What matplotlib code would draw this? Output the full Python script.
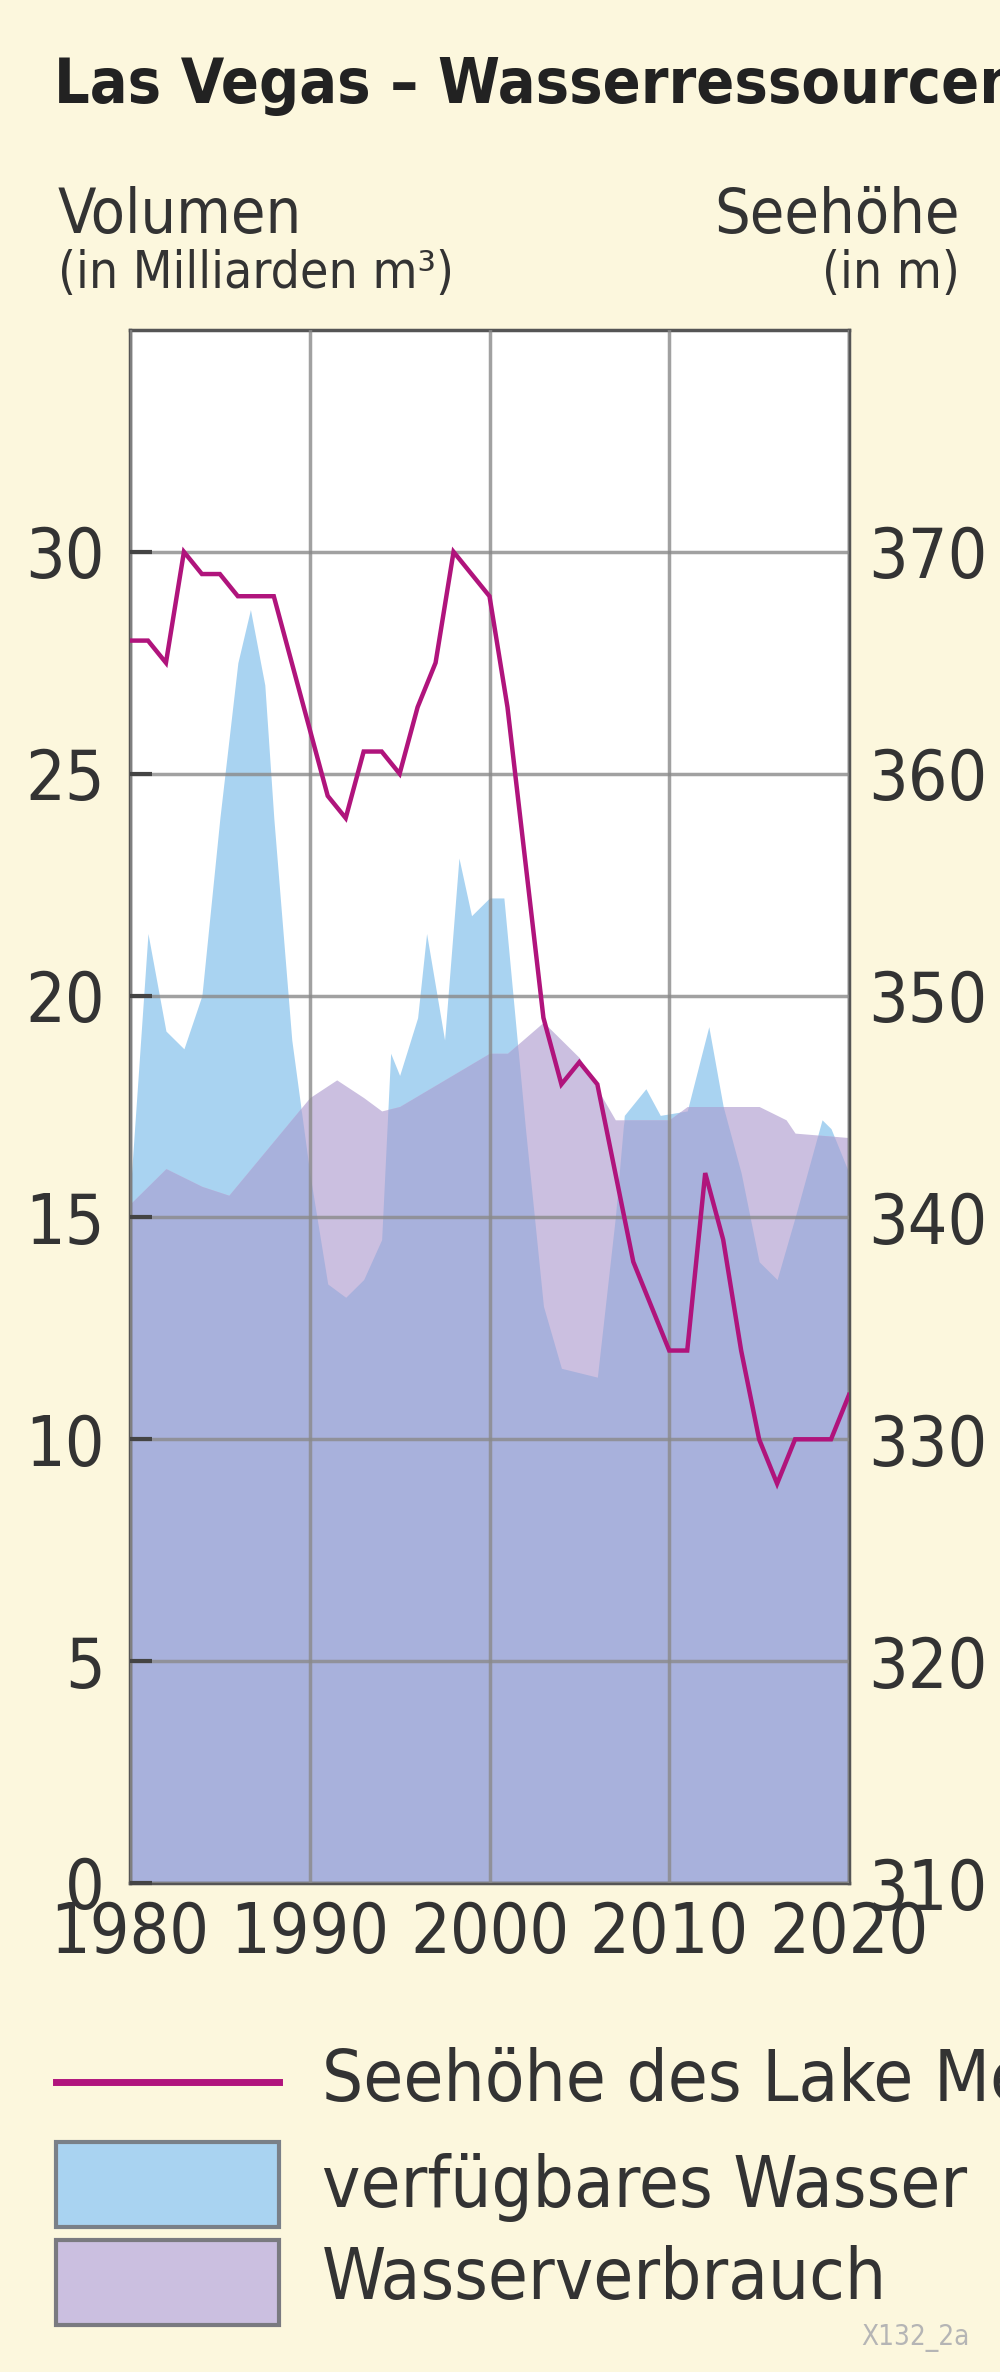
import matplotlib
matplotlib.use("Agg")
import matplotlib.pyplot as plt
from matplotlib import font_manager
import numpy as np
from matplotlib.patches import Rectangle
from matplotlib.lines import Line2D

names = {f.name for f in font_manager.fontManager.ttflist}
if "Liberation Sans Narrow" in names:
    plt.rcParams['font.family'] = ['Liberation Sans Narrow', 'DejaVu Sans']
else:
    plt.rcParams['font.family'] = ['DejaVu Sans']
    plt.rcParams['font.stretch'] = 'condensed'

# verfuegbares Wasser (Mrd m3)
availYears = [1980, 1981, 1982, 1983, 1984, 1985, 1986, 1986.7, 1987.5, 1988, 1989, 1990,
              1991, 1992, 1993, 1994, 1994.5, 1995, 1996, 1996.5, 1997.5, 1998.3, 1999,
              2000, 2000.8, 2002, 2003, 2004, 2005, 2006, 2007, 2007.5, 2008.7, 2009.5,
              2011, 2012.2, 2013, 2014, 2015, 2016, 2017, 2018.5, 2019, 2020]
availVals = [15.5, 21.4, 19.2, 18.8, 20.0, 24.0, 27.5, 28.7, 27.0, 24.0, 19.0, 16.0,
             13.5, 13.2, 13.6, 14.5, 18.7, 18.2, 19.5, 21.4, 19.0, 23.1, 21.8,
             22.2, 22.2, 17.0, 13.0, 11.6, 11.5, 11.4, 15.0, 17.3, 17.9, 17.3,
             17.4, 19.3, 17.5, 16.0, 14.0, 13.6, 15.0, 17.2, 17.0, 16.0]

# Wasserverbrauch (Mrd m3)
useYears = [1980, 1982, 1984, 1985.5, 1990, 1991.5, 1993, 1994, 1995, 2000, 2001,
            2003, 2005, 2007, 2010, 2011, 2015, 2016.5, 2017, 2020]
useVals = [15.3, 16.1, 15.7, 15.5, 17.7, 18.1, 17.7, 17.4, 17.5, 18.7, 18.7,
           19.4, 18.6, 17.2, 17.2, 17.5, 17.5, 17.2, 16.9, 16.8]

# Seehoehe des Lake Mead (m)
lakeYears = list(range(1980, 2021))
lakeLevel = [366, 366, 365, 370, 369, 369, 368, 368, 368, 365, 362, 359, 358, 361,
             361, 360, 363, 365, 370, 369, 368, 363, 356, 349, 346, 347, 346, 342,
             338, 336, 334, 334, 342, 339, 334, 330, 328, 330, 330, 330, 332]

bg = "#fcf7dd"
blue = "#a9d3f1"
purple = "#cbbfe0"
overlap = "#a8b1dc"
lineColor = "#b0147c"
textColor = "#333333"

fig = plt.figure(figsize=(10, 23.72), dpi=100, facecolor=bg)
H = 2372
ax = fig.add_axes([0.13, 1 - 1883 / H, 0.719, (1883 - 330) / H])
ax.set_facecolor("white")

grid = np.linspace(1980, 2020, 801)
a = np.interp(grid, availYears, availVals)
u = np.interp(grid, useYears, useVals)
ax.fill_between(grid, 0, a, color=blue, lw=0)
ax.fill_between(grid, 0, u, color=purple, lw=0)
ax.fill_between(grid, 0, np.minimum(a, u), color=overlap, lw=0)

ax.set_xlim(1980, 2020)
ax.set_ylim(0, 35)
ax.set_yticks([0, 5, 10, 15, 20, 25, 30])
ax.set_xticks([1980, 1990, 2000, 2010, 2020])
ax.grid(True, color="#8a8a8a", lw=2.5, alpha=0.8)
ax.set_axisbelow(False)
ax.tick_params(axis="both", direction="in", length=16, width=3, color="#444444",
               labelsize=50, labelcolor=textColor, pad=18, right=True)
ax.tick_params(axis="x", length=0, pad=12)
for s in ax.spines.values():
    s.set_color("#555555")
    s.set_linewidth(2.5)

ax2 = ax.twinx()
ax2.set_ylim(310, 380)
ax2.set_yticks([310, 320, 330, 340, 350, 360, 370])
ax2.plot(lakeYears, lakeLevel, color=lineColor, lw=3.2, solid_joinstyle="miter")
ax2.tick_params(axis="y", direction="in", length=0, labelsize=50,
                labelcolor=textColor, pad=14)
for s in ax2.spines.values():
    s.set_visible(False)

fig.text(0.054, 1 - 103 / H, "Las Vegas – Wasserressourcen", fontsize=45,
         fontweight="bold", va="baseline", color="#222222")
fig.text(0.058, 1 - 233 / H, "Volumen", fontsize=45, va="baseline", color=textColor)
fig.text(0.058, 1 - 288 / H, "(in Milliarden m³)", fontsize=37, va="baseline",
         color=textColor)
fig.text(0.96, 1 - 233 / H, "Seehöhe", fontsize=45, va="baseline", ha="right",
         color=textColor)
fig.text(0.96, 1 - 288 / H, "(in m)", fontsize=37, va="baseline", ha="right",
         color=textColor)

# legend
fig.add_artist(Line2D([0.056, 0.279], [1 - 2082 / H] * 2, color=lineColor, lw=5))
fig.add_artist(Rectangle((0.056, 1 - 2227 / H), 0.223, 85 / H, facecolor=blue,
                         edgecolor="#7a8088", lw=3))
fig.add_artist(Rectangle((0.056, 1 - 2325 / H), 0.223, 85 / H, facecolor=purple,
                         edgecolor="#7a7a80", lw=3))
fig.text(0.322, 1 - 2082 / H, "Seehöhe des Lake Mead", fontsize=52, va="center",
         color=textColor)
fig.text(0.322, 1 - 2187 / H, "verfügbares Wasser", fontsize=52, va="center",
         color=textColor)
fig.text(0.322, 1 - 2280 / H, "Wasserverbrauch", fontsize=52, va="center",
         color=textColor)
fig.text(0.97, 1 - 2345 / H, "X132_2a", fontsize=20, color="#b5b5b5", ha="right",
         va="baseline")

fig.savefig("out.png", dpi=100, facecolor=bg)
